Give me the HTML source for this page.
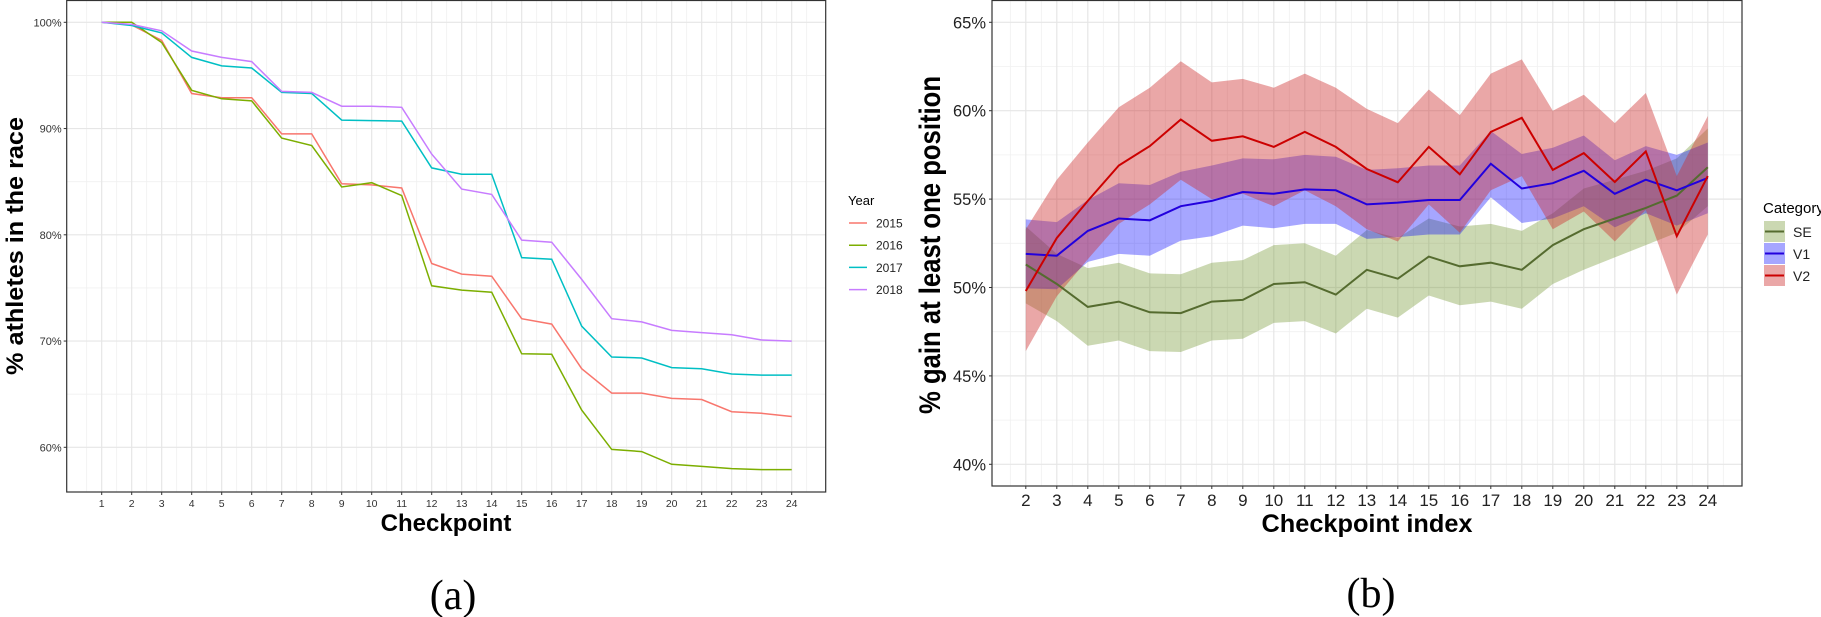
<!DOCTYPE html>
<html><head><meta charset="utf-8"><style>
html,body{margin:0;padding:0;background:#fff;}
svg{display:block;font-family:"Liberation Sans",sans-serif;}
</style></head><body>
<svg id="svg" width="1821" height="617" viewBox="0 0 1821 617" xmlns="http://www.w3.org/2000/svg">
<g id="left"></g>
<g id="right"></g>
<text x="453" y="609" font-family="Liberation Serif,serif" font-size="42" text-anchor="middle">(a)</text>
<text x="1371" y="607" font-family="Liberation Serif,serif" font-size="42" text-anchor="middle">(b)</text>
</svg>
<script>
// ---- Chart (a) data ----
const checkpointsA = [1,2,3,4,5,6,7,8,9,10,11,12,13,14,15,16,17,18,19,20,21,22,23,24];
const years = ['2015','2016','2017','2018'];
const yr2015 = [100,99.75,98.3,93.3,92.9,92.9,89.5,89.5,84.8,84.7,84.4,77.3,76.3,76.1,72.1,71.6,67.4,65.1,65.1,64.6,64.5,63.35,63.2,62.9];
const yr2016 = [100,100,98.1,93.6,92.8,92.6,89.1,88.4,84.5,84.9,83.7,75.2,74.8,74.6,68.8,68.75,63.5,59.8,59.6,58.4,58.2,58.0,57.9,57.9];
const yr2017 = [100,99.7,99.0,96.7,95.9,95.7,93.4,93.3,90.8,90.75,90.7,86.3,85.7,85.7,77.85,77.7,71.4,68.5,68.4,67.5,67.4,66.9,66.8,66.8];
const yr2018 = [100,99.8,99.2,97.3,96.7,96.3,93.5,93.4,92.1,92.1,92.0,87.6,84.3,83.8,79.5,79.3,75.8,72.1,71.8,71.0,70.8,70.6,70.1,70.0];
const yTicksA = [60,70,80,90,100];
// ---- Chart (b) data ----
const checkpointsB = [2,3,4,5,6,7,8,9,10,11,12,13,14,15,16,17,18,19,20,21,22,23,24];
const categories = ['SE','V1','V2'];
const seMean = [51.3,50.2,48.9,49.2,48.6,48.55,49.2,49.3,50.2,50.3,49.6,51.0,50.5,51.75,51.2,51.4,51.0,52.4,53.3,53.9,54.5,55.2,56.8];
const seUpper = [53.45,51.9,51.1,51.4,50.8,50.75,51.4,51.55,52.4,52.5,51.8,53.25,52.8,53.9,53.45,53.6,53.2,54.2,55.6,56.1,56.6,57.3,59.0];
const seLower = [49.1,48.1,46.7,47.0,46.4,46.35,47.0,47.1,48.0,48.1,47.4,48.8,48.3,49.55,49.0,49.2,48.8,50.2,51.0,51.7,52.4,53.1,54.6];
const v1Mean = [51.9,51.8,53.2,53.9,53.8,54.6,54.9,55.4,55.3,55.55,55.5,54.7,54.8,54.95,54.95,57.0,55.6,55.9,56.6,55.3,56.1,55.5,56.2];
const v1Upper = [53.85,53.7,54.95,55.9,55.8,56.55,56.9,57.3,57.25,57.5,57.4,56.65,56.75,56.9,56.9,58.85,57.55,57.9,58.6,57.2,58.0,57.5,58.2];
const v1Lower = [49.95,49.9,51.45,51.9,51.8,52.65,52.9,53.5,53.35,53.6,53.6,52.75,52.85,53.0,53.0,55.1,53.65,53.9,54.6,53.4,54.2,53.5,54.2];
const v2Mean = [49.8,52.8,54.9,56.9,58.0,59.5,58.3,58.55,57.95,58.8,57.95,56.7,55.95,57.95,56.4,58.8,59.6,56.65,57.6,55.97,57.7,52.9,56.3];
const v2Upper = [53.3,56.1,58.2,60.2,61.3,62.8,61.6,61.8,61.3,62.1,61.3,60.1,59.3,61.2,59.75,62.1,62.9,60.0,60.9,59.3,61.0,56.3,59.7];
const v2Lower = [46.4,49.5,51.6,53.6,54.7,56.1,55.0,55.3,54.6,55.5,54.6,53.3,52.6,54.7,53.1,55.5,56.3,53.3,54.3,52.6,54.4,49.6,53.0];
const yTicksB = [40,45,50,55,60,65];

const NS='http://www.w3.org/2000/svg';
function mk(parent, tag, attrs, text){
  const e=document.createElementNS(NS,tag);
  for(const k in attrs) e.setAttribute(k,attrs[k]);
  if(text!==undefined) e.textContent=text;
  parent.appendChild(e); return e;
}

// ===== Chart A =====
(function(){
  const g=document.getElementById('left');
  const L=66.7,R=825.7,T=0.5,B=492;
  const xA=c=>101.7+(c-1)*30;
  const yA=v=>22.3+(100-v)*10.625;
  mk(g,'rect',{x:L,y:T,width:R-L,height:B-T,fill:'#fff'});
  for(let c=0.5;c<=25;c+=1){const x=xA(c); if(x>L&&x<R){mk(g,'line',{x1:x,x2:x,y1:T,y2:B,stroke:'#f0f0f0','stroke-width':0.8});}}
  for(let v=55;v<=105;v+=10){const y=yA(v); if(y>T&&y<B) mk(g,'line',{x1:L,x2:R,y1:y,y2:y,stroke:'#f0f0f0','stroke-width':0.8});}
  checkpointsA.forEach(c=>{const l=mk(g,'line',{x1:xA(c),x2:xA(c),y1:T,y2:B,stroke:'#e6e6e6','stroke-width':1.2});
     });
  yTicksA.forEach(v=>{const l=mk(g,'line',{x1:L,x2:R,y1:yA(v),y2:yA(v),stroke:'#e6e6e6','stroke-width':1.2});
     
    const t=mk(g,'text',{x:L-5,y:yA(v)+4,'font-size':11,'text-anchor':'end',fill:'#333'},v+'%');
     
    mk(g,'line',{x1:L-3,x2:L,y1:yA(v),y2:yA(v),stroke:'#333','stroke-width':1});});
  checkpointsA.forEach(c=>{
    mk(g,'line',{x1:xA(c),x2:xA(c),y1:B,y2:B+3,stroke:'#333','stroke-width':1});
    const t=mk(g,'text',{x:xA(c),y:B+15,'font-size':10.5,'text-anchor':'middle',fill:'#333'},String(c));
     });
  const series=[yr2015,yr2016,yr2017,yr2018];
  const cols=['#F8766D','#7CAE00','#00BFC4','#C77CFF'];
  series.forEach((s,i)=>{
    const d=s.map((v,j)=>(j?'L':'M')+xA(checkpointsA[j]).toFixed(1)+','+yA(v).toFixed(1)).join('');
    const p=mk(g,'path',{d:d,fill:'none',stroke:cols[i],'stroke-width':1.5});
     });
  mk(g,'rect',{x:L,y:T,width:R-L,height:B-T,fill:'none',stroke:'#333','stroke-width':1.2});
  const yt=mk(g,'text',{x:0,y:0,'font-size':24,'font-weight':'bold','text-anchor':'middle',transform:'translate(23,246) rotate(-90)',textLength:258,lengthAdjust:'spacingAndGlyphs'},'% athletes in the race');
   
  const xt=mk(g,'text',{x:446,y:531,'font-size':24,'font-weight':'bold','text-anchor':'middle'},'Checkpoint');
   
  const lg=mk(g,'g',{});  
  mk(lg,'text',{x:848,y:205,'font-size':13},'Year');
  years.forEach((y,i)=>{const yy=223+i*22.2;
    const e=mk(lg,'g',{});  
    mk(e,'line',{x1:849,x2:867,y1:yy,y2:yy,stroke:cols[i],'stroke-width':1.5});
    mk(e,'text',{x:876,y:yy+4.5,'font-size':12,fill:'#222'},y);});
})();

// ===== Chart B =====
(function(){
  const g=document.getElementById('right');
  const L=992,R=1742,T=0.5,B=486;
  const xB=c=>1025.8+(c-2)*31;
  const yB=v=>22.3+(65-v)*17.68;
  mk(g,'rect',{x:L,y:T,width:R-L,height:B-T,fill:'#fff'});
  for(let c=1.5;c<=25;c+=1){const x=xB(c); if(x>L&&x<R) mk(g,'line',{x1:x,x2:x,y1:T,y2:B,stroke:'#f0f0f0','stroke-width':0.8});}
  for(let v=37.5;v<=67.5;v+=5){const y=yB(v); if(y>T&&y<B) mk(g,'line',{x1:L,x2:R,y1:y,y2:y,stroke:'#f0f0f0','stroke-width':0.8});}
  checkpointsB.forEach(c=>{const l=mk(g,'line',{x1:xB(c),x2:xB(c),y1:T,y2:B,stroke:'#e6e6e6','stroke-width':1.2});
     });
  yTicksB.forEach(v=>{const l=mk(g,'line',{x1:L,x2:R,y1:yB(v),y2:yB(v),stroke:'#e6e6e6','stroke-width':1.2});
     
    const t=mk(g,'text',{x:L-6,y:yB(v)+6,'font-size':17,'text-anchor':'end',fill:'#222',textLength:33,lengthAdjust:'spacingAndGlyphs'},v+'%');
     
    mk(g,'line',{x1:L-3,x2:L,y1:yB(v),y2:yB(v),stroke:'#333','stroke-width':1});});
  checkpointsB.forEach(c=>{
    mk(g,'line',{x1:xB(c),x2:xB(c),y1:B,y2:B+3,stroke:'#333','stroke-width':1});
    const t=mk(g,'text',{x:xB(c),y:B+20,'font-size':17,'text-anchor':'middle',fill:'#222'},String(c));
     });
  const fills=['rgba(107,142,35,0.35)','rgba(0,0,255,0.35)','rgba(205,45,45,0.42)'];
  const lines=['#556B2F','#2200DD','#CC0000'];
  const ups=[seUpper,v1Upper,v2Upper], los=[seLower,v1Lower,v2Lower], means=[seMean,v1Mean,v2Mean];
  categories.forEach((cat,i)=>{
    const up=ups[i].map((v,j)=>xB(checkpointsB[j]).toFixed(1)+','+yB(v).toFixed(1));
    const lo=los[i].map((v,j)=>xB(checkpointsB[j]).toFixed(1)+','+yB(v).toFixed(1)).reverse();
    const p=mk(g,'polygon',{points:up.concat(lo).join(' '),fill:fills[i]});
     });
  categories.forEach((cat,i)=>{
    const d=means[i].map((v,j)=>(j?'L':'M')+xB(checkpointsB[j]).toFixed(1)+','+yB(v).toFixed(1)).join('');
    const p=mk(g,'path',{d:d,fill:'none',stroke:lines[i],'stroke-width':2});
     });
  mk(g,'rect',{x:L,y:T,width:R-L,height:B-T,fill:'none',stroke:'#333','stroke-width':1.2});
  const yt=mk(g,'text',{x:0,y:0,'font-size':30,'font-weight':'bold','text-anchor':'middle',transform:'translate(940,245) rotate(-90)',textLength:338,lengthAdjust:'spacingAndGlyphs'},'% gain at least one position');
   
  const xt=mk(g,'text',{x:1367,y:532,'font-size':25,'font-weight':'bold','text-anchor':'middle',textLength:211,lengthAdjust:'spacingAndGlyphs'},'Checkpoint index');
   
  const lg=mk(g,'g',{});  
  mk(lg,'text',{x:1763,y:213,'font-size':15},'Category');
  categories.forEach((cat,i)=>{const y0=221+i*22;
    const e=mk(lg,'g',{});  
    mk(e,'rect',{x:1764,y:y0,width:21,height:21,fill:fills[i]});
    mk(e,'line',{x1:1765,x2:1784,y1:y0+10.5,y2:y0+10.5,stroke:lines[i],'stroke-width':2});
    mk(e,'text',{x:1793,y:y0+16,'font-size':14,fill:'#222'},cat);});
})();
</script>
</body></html>
